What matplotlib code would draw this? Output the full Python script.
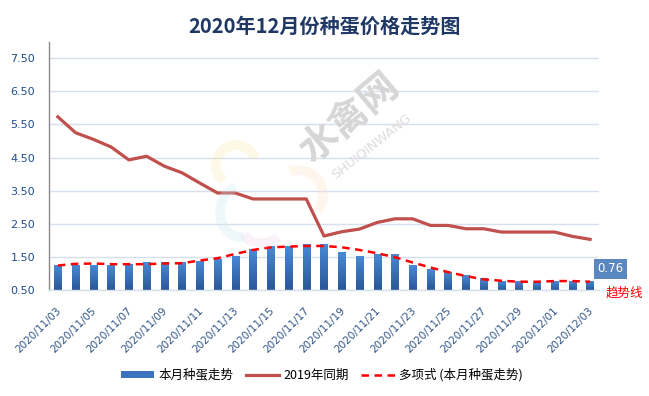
import numpy as np
import matplotlib
matplotlib.use('Agg')
import matplotlib.pyplot as plt
from matplotlib.transforms import ScaledTranslation, IdentityTransform
from matplotlib.lines import Line2D
from matplotlib.patches import Patch, Arc
from matplotlib.colors import LinearSegmentedColormap

plt.rcParams['font.family'] = ['Noto Sans CJK SC', 'DejaVu Sans']

# ---------------- data ----------------
dates = ['2020/11/03', '2020/11/04', '2020/11/05', '2020/11/06', '2020/11/07',
         '2020/11/08', '2020/11/09', '2020/11/10', '2020/11/11', '2020/11/12',
         '2020/11/13', '2020/11/14', '2020/11/15', '2020/11/16', '2020/11/17',
         '2020/11/18', '2020/11/19', '2020/11/20', '2020/11/21', '2020/11/22',
         '2020/11/23', '2020/11/24', '2020/11/25', '2020/11/26', '2020/11/27',
         '2020/11/28', '2020/11/29', '2020/11/30', '2020/12/01', '2020/12/02',
         '2020/12/03']

this_month = [1.26, 1.26, 1.26, 1.25, 1.29, 1.35, 1.35, 1.35, 1.38, 1.44,
              1.53, 1.74, 1.83, 1.83, 1.89, 1.89, 1.65, 1.53, 1.59, 1.59,
              1.26, 1.14, 1.05, 0.95, 0.86, 0.77, 0.77, 0.74, 0.77, 0.77,
              0.76]

last_year = [5.73, 5.25, 5.05, 4.82, 4.43, 4.54, 4.24, 4.04, 3.73, 3.43,
             3.43, 3.25, 3.25, 3.25, 3.25, 2.13, 2.26, 2.34, 2.54, 2.65,
             2.65, 2.45, 2.45, 2.35, 2.35, 2.25, 2.25, 2.25, 2.25, 2.12,
             2.03]

trend = [1.24, 1.29, 1.30, 1.28, 1.28, 1.28, 1.30, 1.31, 1.39, 1.46,
         1.59, 1.71, 1.79, 1.81, 1.83, 1.83, 1.79, 1.71, 1.61, 1.49,
         1.33, 1.18, 1.04, 0.92, 0.82, 0.78, 0.75, 0.75, 0.77, 0.77,
         0.75]

yticks = [0.5, 1.5, 2.5, 3.5, 4.5, 5.5, 6.5, 7.5]
ytick_labels = ['0.50', '1.50', '2.50', '3.50', '4.50', '5.50', '6.50', '7.50']

title = '2020年12月份种蛋价格走势图'
series_names = ['本月种蛋走势', '2019年同期', '多项式 (本月种蛋走势)']

# ---------------- figure ----------------
W, H = 649, 396
fig = plt.figure(figsize=(W / 100, H / 100), dpi=100)
fig.patch.set_facecolor('white')

ax_l, ax_r, ax_t, ax_b = 49, 599, 41.7, 290
ax = fig.add_axes([ax_l / W, 1 - ax_b / H, (ax_r - ax_l) / W, (ax_b - ax_t) / H])
ax.set_facecolor('none')

x = np.arange(len(dates))

# watermark (behind everything)
fig.text(349 / W, 1 - 118 / H, '水禽网', rotation=40, fontsize=28, color='#d6d6d6',
         ha='center', va='center', fontweight='bold', zorder=0)
fig.text(371 / W, 1 - 146 / H, 'SHUIQINWANG', rotation=38, fontsize=9.5, color='#dcdcdc',
         ha='center', va='center', zorder=0, family=['DejaVu Sans'])
logo = [((236, 165), 40, 40, 20, 230, '#fdebb0'),
        ((240, 212), 40, 50, 100, 280, '#c9eaf4'),
        ((262, 228), 40, 30, 200, 330, '#f1d5ea'),
        ((298, 195), 50, 50, -40, 110, '#fde3c6')]
for (cx, cy), w_, h_, t1, t2, c in logo:
    fig.patches.append(Arc((cx, H - cy), w_, h_, theta1=t1, theta2=t2, color=c,
                           lw=7, alpha=0.3, transform=IdentityTransform(), zorder=0))

# bars with vertical gradient
bars = ax.bar(x, this_month, width=0.42, color='#3a72bd', zorder=2, linewidth=0)
cmap = LinearSegmentedColormap.from_list('bg', ['#2a5797', '#4a8bd8'])
grad = np.linspace(0, 1, 256).reshape(-1, 1)
for b in bars:
    x0, y0, bw, bh = b.get_x(), b.get_y(), b.get_width(), b.get_height()
    im = ax.imshow(grad, extent=[x0, x0 + bw, 0.5, y0 + bh], origin='lower',
                   aspect='auto', cmap=cmap, zorder=2.1)
    im.set_clip_path(b)

ax.plot(x, last_year, color='#c0504d', lw=2.3, zorder=3, solid_joinstyle='round')
ax.plot(x, trend, color='#ff0000', lw=1.8, dashes=(3, 2.2), zorder=4)

ax.set_xlim(-0.5, len(dates) - 0.5)
ax.set_ylim(0.5, 8.0)
ax.set_yticks(yticks)
ax.set_yticklabels(ytick_labels)
ax.set_xticks(x[::2])
ax.set_xticklabels(dates[::2], rotation=45, ha='right', va='top')

ax.grid(axis='y', color='#d6e0ec', lw=1, zorder=0)
ax.set_axisbelow(True)
for s in ['top', 'right']:
    ax.spines[s].set_visible(False)
ax.spines['left'].set_color('#8a8a8a')
ax.spines['left'].set_linewidth(1)
ax.spines['bottom'].set_color('#d6e0ec')
ax.spines['bottom'].set_linewidth(1)

ax.tick_params(axis='y', length=0, pad=10, labelsize=8, labelcolor='#1f4e8c')
ax.tick_params(axis='x', length=0, pad=11, labelsize=7.5, labelcolor='#2e5386')
for lbl in ax.get_yticklabels():
    lbl.set_family(['DejaVu Sans'])
for lbl in ax.get_xticklabels():
    lbl.set_family(['DejaVu Sans'])
    lbl.set_transform(lbl.get_transform() + ScaledTranslation(5 / 100, 0, fig.dpi_scale_trans))

# value label for the last bar
ax.annotate(f'{this_month[-1]:.2f}', xy=(x[-1], this_month[-1]),
            xytext=(20.4 * 0.72, 12.7 * 0.72), textcoords='offset points',
            ha='center', va='center', fontsize=8.5, color='white',
            family=['DejaVu Sans'], annotation_clip=False,
            bbox=dict(boxstyle='square,pad=0.3', fc='#5b87c0', ec='none'), zorder=6)

fig.text(624 / W, 1 - 293.5 / H, '趋势线', color='#ff0000', fontsize=9,
         ha='center', va='center')

fig.text(325 / W, 1 - 26.5 / H, title, ha='center', va='center', fontsize=14.5,
         fontweight='bold', color='#203864')

handles = [Patch(facecolor='#3a72bd', edgecolor='none'),
           Line2D([], [], color='#c0504d', lw=2.3),
           Line2D([], [], color='#ff0000', lw=1.8, dashes=(3, 2.2))]
fig.legend(handles, series_names, loc='center', bbox_to_anchor=(321.5 / W, 1 - 375 / H),
           ncol=3, frameon=False, fontsize=9, handlelength=2.7, handleheight=0.55,
           handletextpad=0.3, columnspacing=1.0)

fig.savefig('out.png', dpi=100, facecolor='white')
